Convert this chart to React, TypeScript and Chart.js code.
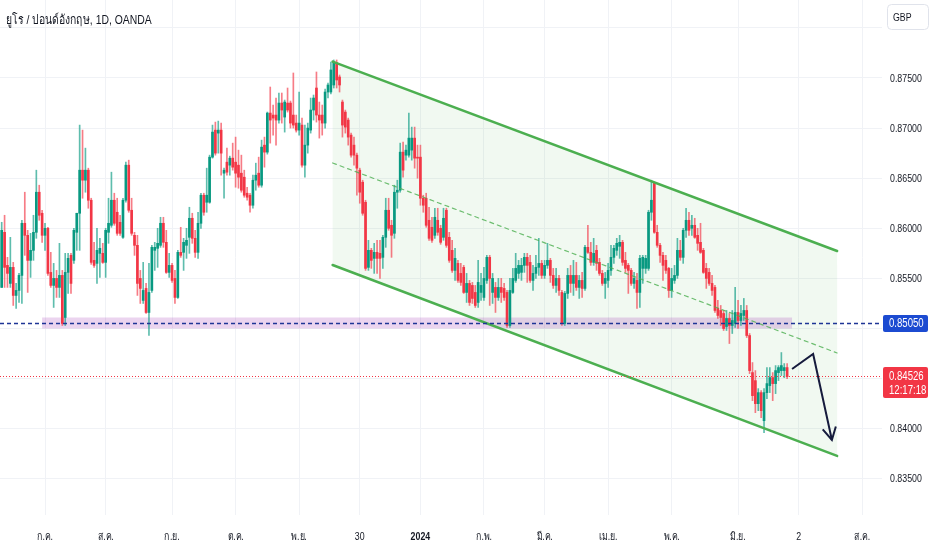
import React, { useEffect, useRef } from "react";
import { Chart, registerables } from "chart.js";

Chart.register(...registerables);

// ---- Daily OHLC values (EUR/GBP, OANDA) ----
const opens = [
  0.8541,0.8596,0.8563,0.8545,0.8561,0.8533,0.8538,0.8553,0.8605,0.8593,
  0.8568,0.8578,0.8596,0.8636,0.8615,0.8593,0.8600,0.8556,0.8543,0.8550,
  0.8541,0.8553,0.8511,0.8556,0.8573,0.8568,0.8596,0.8615,0.8658,0.8648,
  0.8658,0.8628,0.8568,0.8565,0.8575,0.8575,0.8566,0.8596,0.8603,0.8628,
  0.8616,0.8606,0.8591,0.8628,0.8663,0.8618,0.8593,0.8583,0.8550,0.8528,
  0.8540,0.8516,0.8538,0.8578,0.8580,0.8583,0.8605,0.8586,0.8556,0.8563,
  0.8550,0.8531,0.8576,0.8576,0.8583,0.8591,0.8610,0.8590,0.8576,0.8605,
  0.8633,0.8626,0.8626,0.8671,0.8698,0.8695,0.8698,0.8655,0.8666,0.8663,
  0.8670,0.8666,0.8663,0.8655,0.8651,0.8635,0.8633,0.8623,0.8648,0.8655,
  0.8643,0.8683,0.8676,0.8715,0.8713,0.8713,0.8708,0.8725,0.8711,0.8725,
  0.8725,0.8713,0.8705,0.8698,0.8703,0.8663,0.8683,0.8698,0.8718,0.8740,
  0.8713,0.8713,0.8705,0.8736,0.8736,0.8743,0.8765,0.8751,0.8726,0.8716,
  0.8708,0.8693,0.8683,0.8673,0.8658,0.8646,0.8626,0.8561,0.8578,0.8570,
  0.8576,0.8575,0.8571,0.8591,0.8618,0.8603,0.8595,0.8636,0.8638,0.8676,
  0.8673,0.8673,0.8678,0.8690,0.8671,0.8671,0.8630,0.8630,0.8608,0.8601,
  0.8593,0.8608,0.8600,0.8591,0.8618,0.8591,0.8578,0.8558,0.8565,0.8555,
  0.8561,0.8536,0.8545,0.8543,0.8536,0.8526,0.8536,0.8531,0.8548,0.8571,
  0.8536,0.8541,0.8531,0.8541,0.8540,0.8536,0.8503,0.8536,0.8548,0.8555,
  0.8556,0.8563,0.8571,0.8566,0.8548,0.8555,0.8561,0.8565,0.8553,0.8563,
  0.8568,0.8553,0.8543,0.8550,0.8536,0.8505,0.8535,0.8553,0.8545,0.8553,
  0.8541,0.8548,0.8540,0.8581,0.8576,0.8566,0.8578,0.8566,0.8555,0.8545,
  0.8548,0.8558,0.8571,0.8578,0.8582,0.8586,0.8568,0.8563,0.8558,0.8545,
  0.8548,0.8536,0.8560,0.8560,0.8560,0.8616,0.8645,0.8596,0.8583,0.8573,
  0.8568,0.8560,0.8538,0.8548,0.8553,0.8578,0.8571,0.8598,0.8608,0.8600,
  0.8603,0.8593,0.8586,0.8578,0.8560,0.8556,0.8545,0.8541,0.8520,0.8518,
  0.8515,0.8502,0.8510,0.8503,0.8505,0.8516,0.8508,0.8513,0.8518,0.8493,
  0.8456,0.8448,0.8425,0.8436,0.8408,0.8436,0.8443,0.8451,0.8445,0.8456,
  0.8458,0.8458,0.8461,
];
const highs = [
  0.8606,0.8613,0.8571,0.8591,0.8566,0.8545,0.8555,0.8608,0.8636,0.8598,
  0.8595,0.8613,0.8658,0.8643,0.8618,0.8605,0.8601,0.8576,0.8565,0.8558,
  0.8585,0.8558,0.8575,0.8575,0.8575,0.8600,0.8615,0.8703,0.8698,0.8680,
  0.8660,0.8630,0.8586,0.8600,0.8590,0.8585,0.8600,0.8630,0.8656,0.8635,
  0.8630,0.8613,0.8630,0.8666,0.8668,0.8630,0.8596,0.8593,0.8558,0.8566,
  0.8545,0.8565,0.8583,0.8586,0.8600,0.8611,0.8611,0.8598,0.8575,0.8565,
  0.8558,0.8578,0.8601,0.8590,0.8600,0.8621,0.8615,0.8598,0.8616,0.8635,
  0.8635,0.8660,0.8673,0.8703,0.8706,0.8707,0.8705,0.8660,0.8680,0.8672,
  0.8685,0.8691,0.8678,0.8673,0.8658,0.8641,0.8635,0.8653,0.8665,0.8671,
  0.8688,0.8691,0.8716,0.8741,0.8723,0.8730,0.8735,0.8735,0.8728,0.8740,
  0.8727,0.8755,0.8713,0.8736,0.8710,0.8703,0.8705,0.8730,0.8733,0.8756,
  0.8726,0.8723,0.8739,0.8745,0.8766,0.8768,0.8768,0.8753,0.8728,0.8718,
  0.8710,0.8695,0.8691,0.8675,0.8660,0.8648,0.8628,0.8588,0.8580,0.8585,
  0.8588,0.8588,0.8593,0.8630,0.8630,0.8608,0.8643,0.8648,0.8685,0.8686,
  0.8683,0.8715,0.8701,0.8701,0.8683,0.8683,0.8633,0.8635,0.8621,0.8611,
  0.8620,0.8620,0.8603,0.8620,0.8620,0.8596,0.8588,0.8580,0.8568,0.8565,
  0.8563,0.8555,0.8548,0.8546,0.8543,0.8568,0.8555,0.8561,0.8573,0.8573,
  0.8555,0.8546,0.8550,0.8550,0.8545,0.8538,0.8550,0.8560,0.8575,0.8568,
  0.8570,0.8575,0.8575,0.8573,0.8563,0.8573,0.8590,0.8568,0.8568,0.8585,
  0.8570,0.8560,0.8560,0.8553,0.8538,0.8537,0.8560,0.8563,0.8568,0.8566,
  0.8553,0.8556,0.8583,0.8603,0.8586,0.8590,0.8583,0.8570,0.8558,0.8556,
  0.8565,0.8583,0.8583,0.8590,0.8593,0.8588,0.8576,0.8565,0.8560,0.8556,
  0.8555,0.8573,0.8573,0.8573,0.8618,0.8648,0.8646,0.8603,0.8585,0.8576,
  0.8573,0.8561,0.8560,0.8563,0.8590,0.8588,0.8600,0.8620,0.8616,0.8613,
  0.8610,0.8600,0.8605,0.8580,0.8565,0.8560,0.8553,0.8543,0.8528,0.8523,
  0.8518,0.8518,0.8515,0.8518,0.8541,0.8528,0.8523,0.8530,0.8523,0.8495,
  0.8466,0.8458,0.8440,0.8438,0.8440,0.8461,0.8461,0.8456,0.8463,0.8463,
  0.8476,0.8465,0.8465,
];
const lows = [
  0.8541,0.8541,0.8541,0.8541,0.8523,0.8520,0.8526,0.8525,0.8573,0.8536,
  0.8551,0.8568,0.8590,0.8608,0.8586,0.8578,0.8553,0.8541,0.8521,0.8531,
  0.8531,0.8503,0.8503,0.8535,0.8535,0.8565,0.8578,0.8578,0.8630,0.8636,
  0.8620,0.8564,0.8561,0.8545,0.8551,0.8565,0.8551,0.8585,0.8601,0.8603,
  0.8593,0.8593,0.8590,0.8626,0.8616,0.8593,0.8573,0.8533,0.8525,0.8525,
  0.8515,0.8493,0.8536,0.8558,0.8561,0.8581,0.8581,0.8555,0.8551,0.8546,
  0.8525,0.8530,0.8571,0.8558,0.8570,0.8575,0.8585,0.8571,0.8570,0.8600,
  0.8613,0.8616,0.8625,0.8670,0.8673,0.8675,0.8653,0.8630,0.8653,0.8653,
  0.8658,0.8641,0.8640,0.8636,0.8631,0.8628,0.8616,0.8620,0.8638,0.8641,
  0.8641,0.8661,0.8674,0.8685,0.8693,0.8683,0.8705,0.8705,0.8696,0.8716,
  0.8700,0.8700,0.8696,0.8693,0.8661,0.8651,0.8675,0.8695,0.8708,0.8706,
  0.8690,0.8693,0.8700,0.8730,0.8734,0.8740,0.8740,0.8736,0.8691,0.8695,
  0.8683,0.8671,0.8663,0.8633,0.8625,0.8613,0.8558,0.8558,0.8560,0.8555,
  0.8555,0.8550,0.8560,0.8581,0.8598,0.8571,0.8590,0.8620,0.8636,0.8651,
  0.8668,0.8671,0.8668,0.8660,0.8650,0.8623,0.8616,0.8601,0.8588,0.8586,
  0.8590,0.8593,0.8584,0.8588,0.8581,0.8566,0.8556,0.8548,0.8546,0.8543,
  0.8535,0.8526,0.8523,0.8525,0.8521,0.8521,0.8528,0.8528,0.8545,0.8523,
  0.8525,0.8516,0.8528,0.8526,0.8528,0.8501,0.8501,0.8535,0.8546,0.8550,
  0.8548,0.8556,0.8546,0.8546,0.8538,0.8550,0.8553,0.8550,0.8550,0.8560,
  0.8546,0.8540,0.8536,0.8533,0.8503,0.8503,0.8530,0.8536,0.8533,0.8538,
  0.8530,0.8531,0.8538,0.8575,0.8563,0.8563,0.8558,0.8553,0.8543,0.8530,
  0.8541,0.8553,0.8565,0.8573,0.8570,0.8563,0.8556,0.8535,0.8543,0.8540,
  0.8520,0.8521,0.8545,0.8555,0.8558,0.8608,0.8595,0.8581,0.8566,0.8548,
  0.8555,0.8531,0.8531,0.8545,0.8550,0.8568,0.8565,0.8591,0.8593,0.8593,
  0.8590,0.8578,0.8575,0.8555,0.8540,0.8543,0.8533,0.8516,0.8510,0.8503,
  0.8498,0.8498,0.8485,0.8495,0.8501,0.8500,0.8503,0.8508,0.8491,0.8455,
  0.8428,0.8416,0.8418,0.8411,0.8396,0.8430,0.8436,0.8428,0.8435,0.8448,
  0.8453,0.8451,0.8450,
];
const closes = [
  0.8598,0.8561,0.8555,0.8561,0.8533,0.8538,0.8553,0.8605,0.8593,0.8568,
  0.8578,0.8596,0.8636,0.8613,0.8593,0.8600,0.8555,0.8543,0.8550,0.8541,
  0.8553,0.8505,0.8556,0.8570,0.8545,0.8598,0.8615,0.8658,0.8648,0.8658,
  0.8628,0.8566,0.8563,0.8578,0.8580,0.8566,0.8598,0.8605,0.8628,0.8605,
  0.8595,0.8595,0.8628,0.8663,0.8618,0.8595,0.8583,0.8545,0.8540,0.8538,
  0.8516,0.8536,0.8581,0.8581,0.8585,0.8605,0.8586,0.8556,0.8563,0.8548,
  0.8531,0.8576,0.8573,0.8586,0.8588,0.8610,0.8590,0.8576,0.8605,0.8633,
  0.8616,0.8633,0.8671,0.8696,0.8675,0.8698,0.8675,0.8658,0.8656,0.8670,
  0.8661,0.8655,0.8651,0.8638,0.8633,0.8631,0.8623,0.8648,0.8653,0.8643,
  0.8681,0.8676,0.8715,0.8708,0.8710,0.8708,0.8725,0.8718,0.8726,0.8718,
  0.8705,0.8703,0.8698,0.8705,0.8663,0.8683,0.8700,0.8718,0.8730,0.8713,
  0.8708,0.8705,0.8736,0.8743,0.8758,0.8766,0.8748,0.8743,0.8703,0.8701,
  0.8691,0.8673,0.8673,0.8660,0.8636,0.8615,0.8560,0.8578,0.8568,0.8576,
  0.8570,0.8570,0.8591,0.8618,0.8600,0.8593,0.8636,0.8638,0.8676,0.8658,
  0.8678,0.8690,0.8690,0.8670,0.8670,0.8630,0.8623,0.8603,0.8590,0.8588,
  0.8611,0.8596,0.8586,0.8610,0.8583,0.8568,0.8558,0.8570,0.8548,0.8546,
  0.8536,0.8545,0.8526,0.8530,0.8523,0.8546,0.8543,0.8550,0.8571,0.8550,
  0.8550,0.8531,0.8541,0.8536,0.8531,0.8503,0.8538,0.8550,0.8560,0.8563,
  0.8563,0.8571,0.8563,0.8548,0.8555,0.8561,0.8565,0.8553,0.8563,0.8568,
  0.8553,0.8543,0.8550,0.8538,0.8505,0.8535,0.8553,0.8545,0.8553,0.8541,
  0.8548,0.8540,0.8581,0.8576,0.8566,0.8575,0.8565,0.8555,0.8545,0.8550,
  0.8558,0.8571,0.8580,0.8585,0.8586,0.8566,0.8560,0.8558,0.8545,0.8550,
  0.8536,0.8570,0.8571,0.8570,0.8616,0.8628,0.8596,0.8583,0.8573,0.8563,
  0.8558,0.8538,0.8550,0.8553,0.8578,0.8571,0.8598,0.8608,0.8598,0.8603,
  0.8591,0.8585,0.8576,0.8556,0.8550,0.8545,0.8538,0.8518,0.8513,0.8511,
  0.8500,0.8510,0.8503,0.8508,0.8516,0.8508,0.8515,0.8518,0.8493,0.8458,
  0.8433,0.8425,0.8436,0.8418,0.8436,0.8445,0.8451,0.8445,0.8458,0.8461,
  0.8463,0.8461,0.8452,
];

// ---- Axis ticks ----
const timeTickIndex = [15, 36, 59, 81, 103, 124, 145, 167, 188, 210, 232, 255, 276, 298];
const timeTickLabels = ["ก.ค.", "ส.ค.", "ก.ย.", "ต.ค.", "พ.ย.", "30", "2024", "ก.พ.", "มี.ค.", "เม.ย.", "พ.ค.", "มิ.ย.", "2", "ส.ค."];
const yearTick = "2024";
const priceTicks = [0.835, 0.84, 0.845, 0.85, 0.855, 0.86, 0.865, 0.87, 0.875, 0.88];
const hiddenPriceLabels = [0.845, 0.85, 0.88];

// ---- Drawings (data space: bar index, price) ----
const channelIndex = [114.6, 289.3];
const channelUpper = [0.87663, 0.85773];
const channelMid = [0.86652, 0.84756];
const channelLower = [0.85634, 0.83728];
const zoneIndex = [14, 273.7];
const zonePrice = [0.85, 0.8511];
const levelPrice = 0.8505;
const lastPrice = 0.84526;
const countdown = "12:17:18";
const arrowIndex = [273.7, 281, 287.5];
const arrowPrice = [0.84596, 0.84746, 0.83887];

const title = "ยูโร / ปอนด์อังกฤษ, 1D, OANDA";
const currency = "GBP";

const GREEN = "#089981";
const RED = "#F23645";
const GREEN_WICK = "rgba(8,153,129,0.65)";
const RED_WICK = "rgba(242,54,69,0.65)";
const TEXT = "#131722";
const GRID = "#f0f2f6";
const FONT = "'Liberation Sans', Arial, sans-serif";
const SQUISH = 0.8;

function squishText(ctx: CanvasRenderingContext2D, text: string, x: number, y: number, align: CanvasTextAlign) {
  ctx.save();
  ctx.translate(x, y);
  ctx.scale(SQUISH, 1);
  ctx.textAlign = align;
  ctx.fillText(text, 0, 0);
  ctx.restore();
}

export default function App() {
  const ref = useRef<HTMLCanvasElement>(null);

  useEffect(() => {
    document.body.style.margin = "0";
    const canvas = ref.current;
    if (!canvas) return;
    const n = closes.length;
    const idx = Array.from({ length: n }, (_, i) => i);
    const isUp = idx.map((i) => closes[i] >= opens[i]);

    const overlay = {
      id: "overlay",
      beforeDatasetsDraw(chart: any) {
        const { ctx, chartArea: a, scales } = chart;
        const x = scales.x, y = scales.y;
        ctx.save();
        ctx.beginPath();
        ctx.rect(a.left, a.top, a.right - a.left, a.bottom - a.top);
        ctx.clip();
        const x0 = x.getPixelForValue(channelIndex[0]);
        const x1 = x.getPixelForValue(channelIndex[1]);
        ctx.fillStyle = "rgba(76,175,80,0.08)";
        ctx.beginPath();
        ctx.moveTo(x0, y.getPixelForValue(channelUpper[0]));
        ctx.lineTo(x1, y.getPixelForValue(channelUpper[1]));
        ctx.lineTo(x1, y.getPixelForValue(channelLower[1]));
        ctx.lineTo(x0, y.getPixelForValue(channelLower[0]));
        ctx.closePath();
        ctx.fill();
        const zx0 = x.getPixelForValue(zoneIndex[0]);
        const zx1 = x.getPixelForValue(zoneIndex[1]);
        const zy0 = y.getPixelForValue(zonePrice[1]);
        const zy1 = y.getPixelForValue(zonePrice[0]);
        ctx.fillStyle = "rgba(156,39,176,0.2)";
        ctx.fillRect(zx0, zy0, zx1 - zx0, zy1 - zy0);
        ctx.restore();
      },
      afterDatasetsDraw(chart: any) {
        const { ctx, chartArea: a, scales } = chart;
        const x = scales.x, y = scales.y;
        ctx.save();
        ctx.beginPath();
        ctx.rect(a.left, a.top, a.right - a.left, a.bottom - a.top);
        ctx.clip();
        const x0 = x.getPixelForValue(channelIndex[0]);
        const x1 = x.getPixelForValue(channelIndex[1]);
        ctx.strokeStyle = "#4CAF50";
        ctx.lineWidth = 2.5;
        ctx.lineCap = "round";
        [channelUpper, channelLower].forEach((ln) => {
          ctx.beginPath();
          ctx.moveTo(x0, y.getPixelForValue(ln[0]));
          ctx.lineTo(x1, y.getPixelForValue(ln[1]));
          ctx.stroke();
        });
        ctx.lineWidth = 1.2;
        ctx.strokeStyle = "rgba(76,175,80,0.8)";
        ctx.setLineDash([4, 4]);
        ctx.beginPath();
        ctx.moveTo(x0, y.getPixelForValue(channelMid[0]));
        ctx.lineTo(x1, y.getPixelForValue(channelMid[1]));
        ctx.stroke();
        const ly = Math.round(y.getPixelForValue(levelPrice)) + 0.5;
        ctx.lineCap = "butt";
        ctx.strokeStyle = "#1e3596";
        ctx.lineWidth = 1.3;
        ctx.setLineDash([4, 3]);
        ctx.beginPath();
        ctx.moveTo(a.left, ly);
        ctx.lineTo(a.right, ly);
        ctx.stroke();
        const py = Math.round(y.getPixelForValue(lastPrice)) + 0.5;
        ctx.strokeStyle = RED;
        ctx.lineWidth = 1;
        ctx.setLineDash([1, 2]);
        ctx.beginPath();
        ctx.moveTo(a.left, py);
        ctx.lineTo(a.right, py);
        ctx.stroke();
        ctx.setLineDash([]);
        ctx.strokeStyle = "#161b3d";
        ctx.lineWidth = 2;
        const pts = arrowIndex.map((v, i) => [x.getPixelForValue(v), y.getPixelForValue(arrowPrice[i])]);
        ctx.beginPath();
        ctx.moveTo(pts[0][0], pts[0][1]);
        for (let i = 1; i < pts.length; i++) ctx.lineTo(pts[i][0], pts[i][1]);
        ctx.stroke();
        const [ex, ey] = pts[pts.length - 1];
        const [sx, sy] = pts[pts.length - 2];
        const ang = Math.atan2(ey - sy, ex - sx);
        const hl = 14;
        ctx.beginPath();
        ctx.moveTo(ex - hl * Math.cos(ang - 0.5), ey - hl * Math.sin(ang - 0.5));
        ctx.lineTo(ex, ey);
        ctx.lineTo(ex - hl * Math.cos(ang + 0.5), ey - hl * Math.sin(ang + 0.5));
        ctx.stroke();
        ctx.restore();
      },
      afterDraw(chart: any) {
        const { ctx, chartArea: a, scales } = chart;
        const x = scales.x, y = scales.y;
        ctx.save();
        ctx.textBaseline = "middle";
        // time axis labels
        x.ticks.forEach((t: any) => {
          const k = timeTickIndex.indexOf(t.value);
          if (k < 0) return;
          const label = timeTickLabels[k];
          ctx.fillStyle = TEXT;
          ctx.font = `${label === yearTick ? "bold " : ""}11px ${FONT}`;
          squishText(ctx, label, x.getPixelForValue(t.value), a.bottom + 22, "center");
        });
        // price axis labels
        ctx.font = `11px ${FONT}`;
        y.ticks.forEach((t: any) => {
          if (hiddenPriceLabels.some((h) => Math.abs(h - t.value) < 1e-7)) return;
          ctx.fillStyle = TEXT;
          squishText(ctx, t.value.toFixed(5), a.right + 8, y.getPixelForValue(t.value) + 0.5, "left");
        });
        const bx = a.right + 1;
        const bw = 45;
        // level label
        const ly = y.getPixelForValue(levelPrice);
        ctx.fillStyle = "#1c4bd1";
        ctx.beginPath();
        ctx.roundRect(bx, ly - 8.5, bw, 17, 2);
        ctx.fill();
        ctx.fillStyle = "#ffffff";
        ctx.font = `12px ${FONT}`;
        squishText(ctx, levelPrice.toFixed(5), a.right + 7, ly + 0.5, "left");
        // last price label
        const py = y.getPixelForValue(lastPrice);
        ctx.fillStyle = RED;
        ctx.beginPath();
        ctx.roundRect(bx, py - 9, bw, 31, 2);
        ctx.fill();
        ctx.fillStyle = "#ffffff";
        squishText(ctx, lastPrice.toFixed(5), a.right + 7, py + 1, "left");
        squishText(ctx, countdown, a.right + 7, py + 14.5, "left");
        // currency box
        ctx.fillStyle = "#ffffff";
        ctx.strokeStyle = "#e0e3eb";
        ctx.lineWidth = 1;
        ctx.beginPath();
        ctx.roundRect(887.5, 4.5, 41, 25, 4);
        ctx.fill();
        ctx.stroke();
        ctx.fillStyle = TEXT;
        ctx.font = `11px ${FONT}`;
        squishText(ctx, currency, 893, 17.5, "left");
        // title
        ctx.font = `13px ${FONT}`;
        ctx.fillStyle = TEXT;
        squishText(ctx, title, 6, 20, "left");
        ctx.restore();
      },
    };

    const chart = new Chart(canvas, {
      type: "bar",
      data: {
        datasets: [
          {
            label: "body",
            data: idx.map((i) => ({ x: i, y: [opens[i], closes[i]] })) as any,
            backgroundColor: isUp.map((u) => (u ? GREEN : RED)),
            barThickness: 2,
            minBarLength: 1,
            grouped: false,
            order: 0,
          } as any,
          {
            label: "wick",
            data: idx.map((i) => ({ x: i, y: [lows[i], highs[i]] })) as any,
            backgroundColor: isUp.map((u) => (u ? GREEN_WICK : RED_WICK)),
            barThickness: 1,
            grouped: false,
            order: 1,
          } as any,
        ],
      },
      options: {
        animation: false,
        responsive: false,
        maintainAspectRatio: false,
        events: [],
        layout: { padding: 0 },
        plugins: { legend: { display: false }, tooltip: { enabled: false } },
        scales: {
          x: {
            type: "linear",
            min: -0.585,
            max: 304.85,
            offset: false,
            border: { display: false },
            grid: { color: GRID, drawTicks: false, offset: false },
            afterBuildTicks: (s: any) => {
              s.ticks = timeTickIndex.map((v) => ({ value: v }));
            },
            afterFit: (s: any) => {
              s.height = 35;
            },
            ticks: { display: false, autoSkip: false, maxRotation: 0, minRotation: 0 },
          },
          y: {
            type: "linear",
            position: "right",
            min: 0.831387,
            max: 0.882784,
            border: { display: false },
            grid: { color: GRID, drawTicks: false },
            afterBuildTicks: (s: any) => {
              s.ticks = priceTicks.map((v) => ({ value: v }));
            },
            afterFit: (s: any) => {
              s.width = 50;
            },
            ticks: { display: false },
          },
        },
      } as any,
      plugins: [overlay],
    });
    return () => chart.destroy();
  }, []);

  return (
    <div style={{ position: "fixed", left: 0, top: 0, width: 932, height: 550, background: "#ffffff" }}>
      <canvas ref={ref} width={932} height={550} style={{ display: "block", width: 932, height: 550 }} />
    </div>
  );
}
